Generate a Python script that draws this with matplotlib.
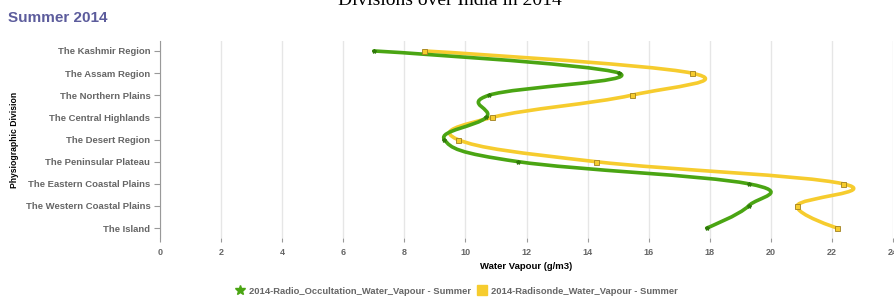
import matplotlib.pyplot as plt
from matplotlib.path import Path
from matplotlib.patches import PathPatch
from matplotlib.lines import Line2D

divisions = ['The Kashmir Region', 'The Assam Region', 'The Northern Plains',
             'The Central Highlands', 'The Desert Region', 'The Peninsular Plateau',
             'The Eastern Coastal Plains', 'The Western Coastal Plains', 'The Island']
radio_occ = [7.0, 15.03, 10.77, 10.68, 9.31, 11.72, 19.27, 19.27, 17.9]
radiosonde = [8.65, 17.41, 15.44, 10.88, 9.75, 14.26, 22.36, 20.86, 22.17]

GREEN = '#4aa513'
YELLOW = '#f6cc2e'
GRAY = '#666666'


def spline_path(cats, vals, smoothing=1.5):
    # spline through the points, category axis is the curve parameter
    n = len(cats)
    denom = smoothing + 1
    left = [None] * n
    right = [None] * n
    for i in range(n):
        px, py = cats[i], vals[i]
        if i == 0 or i == n - 1:
            left[i] = (px, py)
            right[i] = (px, py)
            continue
        lx, ly = cats[i - 1], vals[i - 1]
        nx, ny = cats[i + 1], vals[i + 1]
        lcx = (smoothing * px + lx) / denom
        lcy = (smoothing * py + ly) / denom
        rcx = (smoothing * px + nx) / denom
        rcy = (smoothing * py + ny) / denom
        if rcx != lcx:
            corr = (rcy - lcy) * (rcx - px) / (rcx - lcx) + py - rcy
            lcy += corr
            rcy += corr
        left[i] = (lcx, lcy)
        right[i] = (rcx, rcy)
    verts = [(vals[0], cats[0])]
    codes = [Path.MOVETO]
    for i in range(1, n):
        c1 = right[i - 1]
        c2 = left[i]
        verts += [(c1[1], c1[0]), (c2[1], c2[0]), (vals[i], cats[i])]
        codes += [Path.CURVE4] * 3
    return Path(verts, codes)


plt.rcParams['font.family'] = ['Liberation Sans', 'DejaVu Sans']

fig = plt.figure(figsize=(8.94, 2.98), dpi=100)
ax = fig.add_axes([160 / 894, 60 / 298, 733 / 894, 197 / 298])

ypos = list(range(len(divisions)))

ax.add_patch(PathPatch(spline_path(ypos, radio_occ), fill=False, edgecolor=GREEN, lw=2.6,
                       capstyle='round', joinstyle='round', zorder=3))
ax.add_patch(PathPatch(spline_path(ypos, radiosonde), fill=False, edgecolor=YELLOW, lw=2.6,
                       capstyle='round', joinstyle='round', zorder=2))
ax.plot(radio_occ, ypos, ls='none', marker='*', ms=3, color='#2f7a0a', zorder=4)
ax.plot(radiosonde, ypos, ls='none', marker='s', ms=3.6, mfc=YELLOW, mec='#a08020',
        mew=0.6, zorder=4)

ax.set_xlim(0, 24)
ax.set_ylim(8.45, -0.45)
ax.set_xticks(range(0, 25, 2))
ax.set_yticks(ypos)
ax.set_yticklabels(divisions)
ax.grid(axis='x', color='#e6e6e6', lw=1)
ax.set_axisbelow(True)
for s in ['top', 'right', 'bottom']:
    ax.spines[s].set_visible(False)
ax.spines['left'].set_color('#999999')
ax.tick_params(axis='y', length=4, color='#999999', labelsize=6.8, labelcolor=GRAY, pad=3)
ax.tick_params(axis='x', length=3, color='#999999', labelsize=6.5, labelcolor=GRAY, pad=4)
for lab in ax.get_xticklabels() + ax.get_yticklabels():
    lab.set_fontweight('bold')

ax.set_xlabel('Water Vapour (g/m3)', fontsize=6.8, fontweight='bold', labelpad=4)
ax.set_ylabel('Physiographic Division', fontsize=6.2, fontweight='bold')
ax.yaxis.set_label_coords(-0.192, 0.5)

fig.text(8 / 894, 1 - 22 / 298, 'Summer 2014', fontsize=11, fontweight='bold', color='#5c5c9c')
fig.text(450 / 894, 1 - 5 / 298, 'Divisions over India in 2014', fontsize=14,
         family='Liberation Serif', ha='center', va='baseline')

handles = [Line2D([], [], ls='none', marker='*', ms=7, color=GREEN),
           Line2D([], [], ls='none', marker='s', ms=7, color=YELLOW)]
fig.legend(handles, ['2014-Radio_Occultation_Water_Vapour - Summer',
                     '2014-Radisonde_Water_Vapour - Summer'],
           loc='center', bbox_to_anchor=(457 / 894, 1 - 291 / 298), ncol=2, frameon=False,
           prop={'size': 6.75, 'weight': 'bold'}, labelcolor=GRAY, handletextpad=0.55,
           columnspacing=0.8, handlelength=0.8)

fig.savefig('out.png', dpi=100)
